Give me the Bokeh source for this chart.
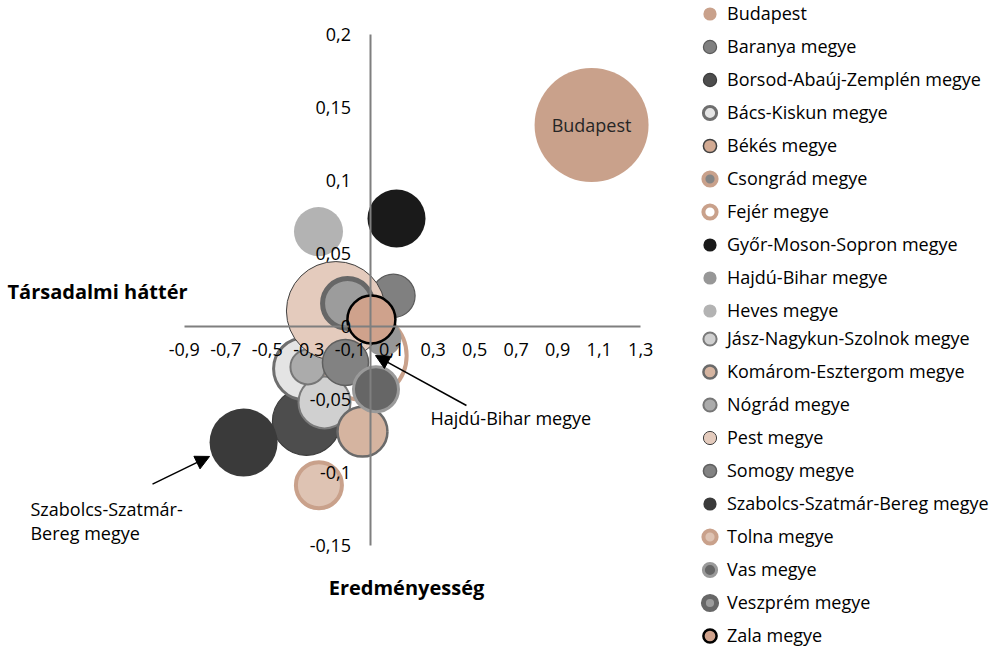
from bokeh.plotting import figure
from bokeh.models import (ColumnDataSource, FixedTicker, CustomJSTickFormatter, Label,
                          Arrow, NormalHead, Range1d, Legend, LegendItem)
from bokeh.embed import file_html
from bokeh.resources import INLINE
import math

# ---------------- DATA ----------------
counties = ["Budapest", "Baranya megye", "Borsod-Abaúj-Zemplén megye", "Bács-Kiskun megye",
            "Békés megye", "Csongrád megye", "Fejér megye", "Győr-Moson-Sopron megye",
            "Hajdú-Bihar megye", "Heves megye", "Jász-Nagykun-Szolnok megye",
            "Komárom-Esztergom megye", "Nógrád megye", "Pest megye", "Somogy megye",
            "Szabolcs-Szatmár-Bereg megye", "Tolna megye", "Vas megye", "Veszprém megye",
            "Zala megye"]
eredmenyesseg = [1.063, 0.108, -0.311, -0.320, -0.243, -0.253, -0.041, 0.123,
                 0.060, -0.253, -0.224, -0.041, -0.304, -0.169, -0.123,
                 -0.614, -0.251, 0.024, -0.113, 0.002]
tarsadalmi_hatter = [0.138, 0.021, -0.065, -0.029, 0.004, 0.0178, -0.020, 0.074,
                     -0.008, 0.065, -0.052, -0.072, -0.0277, 0.0106, -0.0247,
                     -0.0795, -0.1087, -0.043, 0.0158, 0.0048]
bubble_size = [100, 14.5, 35.6, 29.6, 10, 12.3, 60, 25.9,
               10, 18.5, 20.8, 19.2, 9.4, 75.4, 16.3,
               35.6, 16.3, 15.6, 19.2, 17.7]
x_ticks = [-0.9, -0.7, -0.5, -0.3, -0.1, 0.1, 0.3, 0.5, 0.7, 0.9, 1.1, 1.3]
y_ticks = [-0.15, -0.1, -0.05, 0, 0.05, 0.1, 0.15, 0.2]
x_title = "Eredményesség"
y_title = "Társadalmi háttér"

# ---------------- STYLE ----------------
fills = ["#C9A18B", "#808080", "#4D4D4D", "#E4E4E4", "#D2AA93", "#858585", "#FFFFFF",
         "#1A1A1A", "#979797", "#B3B3B3", "#D0D0D0", "#D5B4A0", "#ABABAB", "#E4CBBD",
         "#828282", "#3A3A3A", "#DEC3B3", "#666666", "#9C9C9C", "#CFA28C"]
lines = [None, "#5A5A5A", "#3C3C3C", "#6E6E6E", "#404040", "#C9A18B", "#C9A18B", None,
         None, None, "#7A7A7A", "#6A6A6A", "#767676", "#404040", "#5F5F5F", None,
         "#C9A18B", "#9A9A9A", "#676767", "#000000"]
widths = [0, 1.2, 1.2, 3, 1.5, 4, 4, 0, 0, 0, 2, 2.5, 2, 1, 1.5, 0, 4, 3, 5, 2.5]
FONT = "Open Sans"
px_per_sqrt = 11.4

W, H = 992, 648
p = figure(width=W, height=H, x_range=Range1d(-1.7855, 2.9952),
           y_range=Range1d((326 - H) / 1460, 0.2233),
           output_backend="svg", toolbar_location=None, min_border=0)
p.grid.visible = False
p.outline_line_color = None
p.background_fill_color = "white"
p.border_fill_color = "white"

for ax, ticks, bounds in ((p.xaxis, x_ticks, (-0.9, 1.3)), (p.yaxis, y_ticks, (-0.15, 0.2))):
    ax.fixed_location = 0
    ax.bounds = bounds
    ax.ticker = FixedTicker(ticks=ticks)
    ax.formatter = CustomJSTickFormatter(
        code="return (Math.round(tick*100)/100).toString().replace('.', ',');")
    ax.axis_line_color = "#7F7F7F"
    ax.axis_line_width = 2
    ax.major_tick_line_color = None
    ax.minor_tick_line_color = None
    ax.major_label_text_font = FONT
    ax.major_label_text_font_size = "18px"
    ax.major_label_text_color = "#000000"
p.xaxis.major_label_standoff = 10
p.yaxis.major_label_standoff = 14

renderers = []
for i, name in enumerate(counties):
    src = ColumnDataSource(dict(x=[eredmenyesseg[i]], y=[tarsadalmi_hatter[i]],
                                s=[px_per_sqrt * math.sqrt(bubble_size[i])]))
    r = p.scatter("x", "y", size="s", source=src, fill_color=fills[i],
                  line_color=lines[i], line_width=widths[i] if widths[i] else 1)
    renderers.append(r)


def make_legend(idx, top_center):
    items = [LegendItem(label=counties[i], renderers=[renderers[i]]) for i in idx]
    bottom = top_center - 16.5 + 33 * len(idx)
    lg = Legend(items=items, location=(693, H - bottom), glyph_width=33, glyph_height=33,
                label_height=33, spacing=0, padding=0, margin=0, label_standoff=1,
                background_fill_alpha=0, border_line_alpha=0, label_text_font=FONT,
                label_text_font_size="18px", label_text_color="#000000")
    p.add_layout(lg)


make_legend(range(0, 10), 13)
make_legend(range(10, 20), 338)

# Budapest data label
p.add_layout(Label(x=eredmenyesseg[0], y=tarsadalmi_hatter[0], text="Budapest",
                   text_align="center", text_baseline="middle", text_font=FONT,
                   text_font_size="18px", text_color="#262626"))

# callouts
hb = counties.index("Hajdú-Bihar megye")
p.add_layout(Arrow(end=NormalHead(size=14, fill_color="black", line_color="black"),
                   x_start=0.460, y_start=-0.0541, x_end=0.0217, y_end=-0.0199,
                   line_width=1.5, line_color="black"))
p.add_layout(Label(x=0.2867, y=-0.063, text=counties[hb], text_align="left",
                   text_baseline="middle", text_font=FONT, text_font_size="18px",
                   text_color="#000000"))
p.add_layout(Arrow(end=NormalHead(size=14, fill_color="black", line_color="black"),
                   x_start=-1.053, y_start=-0.108, x_end=-0.778, y_end=-0.089,
                   line_width=1.5, line_color="black"))
p.add_layout(Label(x=-1.641, y=-0.117, text="Szabolcs-Szatmár-\nBereg megye",
                   text_align="left", text_baseline="top", text_font=FONT,
                   text_font_size="18px", text_color="#000000", text_line_height=0.98))

# axis titles
p.add_layout(Label(x=7, y=H - 291, x_units="screen", y_units="screen", text=y_title,
                   text_align="left", text_baseline="middle", text_font=FONT,
                   text_font_size="20px", text_font_style="bold", text_color="#000000"))
p.add_layout(Label(x=406, y=H - 587, x_units="screen", y_units="screen", text=x_title,
                   text_align="center", text_baseline="middle", text_font=FONT,
                   text_font_size="20px", text_font_style="bold", text_color="#000000"))

open("out.html", "w").write(file_html(p, INLINE))
